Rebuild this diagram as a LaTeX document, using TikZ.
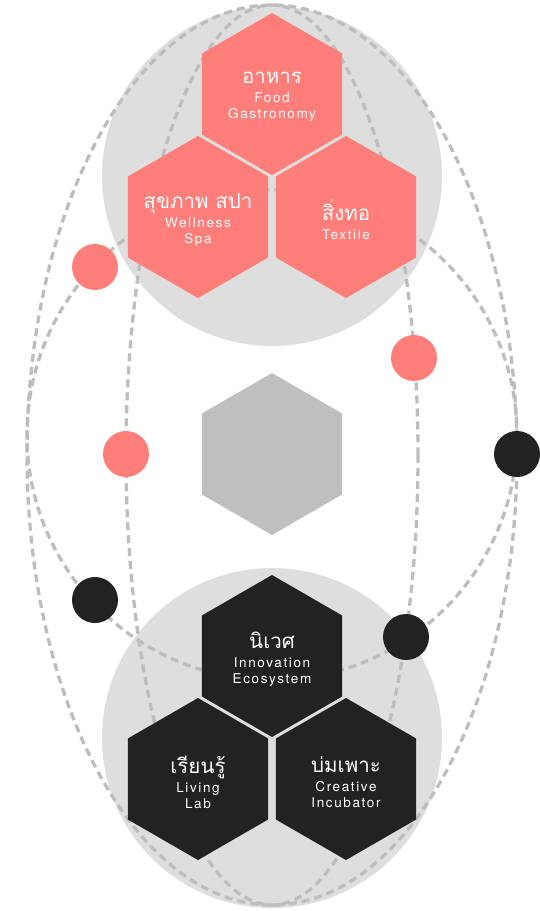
\documentclass[tikz,border=0pt]{standalone}
\usepackage{fontspec}
\setmainfont{TeX Gyre Heros}
\newfontfamily\thaifont[Script=Thai]{Loma}
\newfontfamily\engfont[LetterSpace=12]{TeX Gyre Heros}
\usetikzlibrary{shapes.geometric}

\definecolor{hubgray}{HTML}{DEDEDE}
\definecolor{coral}{HTML}{FF7E79}
\definecolor{ink}{HTML}{222222}
\definecolor{coregray}{HTML}{BFBFBF}
\definecolor{dashgray}{HTML}{BDBDBD}

\newcommand{\thaititle}[1]{{\thaifont\fontsize{20.5}{22}\selectfont #1}}

\begin{document}
\begin{tikzpicture}[x=1pt,y=-1pt,
    every node/.style={inner sep=0pt},
    hexa/.style={regular polygon,regular polygon sides=6,shape border rotate=30,minimum size=162pt},
    hextext/.style={align=center,text=white,yshift=-3pt,font=\engfont\fontsize{13.5}{16}\selectfont},
    coralhex/.style={hexa,fill=coral},
    inkhex/.style={hexa,fill=ink},
    corehex/.style={hexa,fill=coregray},
    dot/.style={circle,minimum size=46pt},
    orbit/.style={draw=dashgray,line width=3.3pt,dash pattern=on 8pt off 5pt}
]
\useasboundingbox (0,0) rectangle (540,911);

% Hub discs
\fill[hubgray] (272,176) circle[radius=170];
\fill[hubgray] (272,738) circle[radius=170];

% Orbits
\coordinate (hub) at (272,455);
\coordinate (ring) at (272,435);
\draw[orbit] (hub) ellipse[x radius=245, y radius=450];
\draw[orbit] (hub) ellipse[x radius=146, y radius=450];
\draw[orbit] (ring) circle[radius=245];

% Satellites
\node[dot,fill=coral] (coralNW) at (95,267) {};
\node[dot,fill=coral] (coralE) at (414,358) {};
\node[dot,fill=coral] (coralW) at (126,454) {};
\node[dot,fill=ink] (inkE) at (517,454) {};
\node[dot,fill=ink] (inkSW) at (95,600) {};
\node[dot,fill=ink] (inkSE) at (406,637) {};

% Upper cluster
\node[coralhex,label={[hextext]center:{\thaititle{อาหาร}\\[3pt]Food\\Gastronomy}}] (food) at (272,94) {};
\node[coralhex,label={[hextext]center:{\thaititle{สุขภาพ สปา}\\[3pt]Wellness\\Spa}}] (wellness) at (198,217) {};
\node[coralhex,label={[hextext]center:{\thaititle{สิ่งทอ}\\[3pt]Textile}}] (textile) at (346,217) {};

% Core
\node[corehex] (core) at (272,454) {};

% Lower cluster
\node[inkhex,label={[hextext]center:{\thaititle{นิเวศ}\\[3pt]Innovation\\Ecosystem}}] (innovation) at (272,656) {};
\node[inkhex,label={[hextext]center:{\thaititle{เรียนรู้}\\[3pt]Living\\Lab}}] (livinglab) at (198,779) {};
\node[inkhex,label={[hextext]center:{\thaititle{บ่มเพาะ}\\[3pt]Creative\\Incubator}}] (incubator) at (346,779) {};

\end{tikzpicture}
\end{document}
